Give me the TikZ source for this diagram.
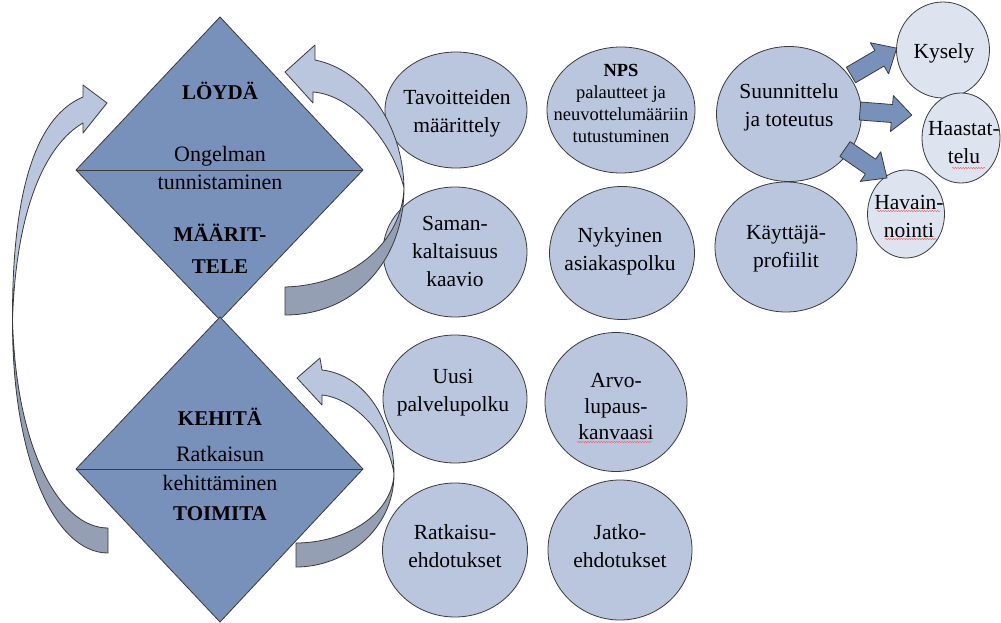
\documentclass[tikz,border=0pt]{standalone}
\usepackage{fontspec}
\setmainfont{Liberation Serif}
\usetikzlibrary{shapes.geometric,decorations.pathmorphing}

\definecolor{diafill}{HTML}{7891BB}
\definecolor{bubblefill}{HTML}{B9C6DD}
\definecolor{minifill}{HTML}{DDE3EF}
\definecolor{bandlight}{HTML}{B9C6DD}
\definecolor{banddark}{HTML}{959FB3}
\definecolor{edgegray}{HTML}{3A3A3A}

% block arrow: start point, angle, length
\newcommand\blockarrow[3]{%
  \begin{scope}[shift={#1},rotate=#2]
    \draw[blockstyle] (0,-9) -- ({#3-20},-9) -- ({#3-20},-18) -- (#3,0)
      -- ({#3-20},18) -- ({#3-20},9) -- (0,9) -- cycle;
  \end{scope}}

\begin{document}
\begin{tikzpicture}[x=1pt,y=-1pt,
  outline/.style={draw=edgegray, line width=0.8pt, line join=round},
  dia/.style={outline, fill=diafill},
  bubble/.style={ellipse, outline, fill=bubblefill, inner sep=0pt},
  minibubble/.style={ellipse, outline, fill=minifill, inner sep=0pt},
  lbl/.style={align=center, inner sep=0pt, font=\fontsize{21.5}{28}\selectfont},
  small/.style={align=center, inner sep=0pt, font=\fontsize{18.5}{22}\selectfont},
  dlbl/.style={anchor=base, inner sep=0pt, font=\fontsize{22}{26}\selectfont},
  dhead/.style={anchor=base, inner sep=0pt, font=\fontsize{21}{26}\selectfont\bfseries},
  bandL/.style={outline, fill=bandlight},
  bandD/.style={outline, fill=banddark},
  blockstyle/.style={outline, fill=diafill},
  squiggle/.style={draw=red!65, line width=0.4pt, decorate,
    decoration={snake, amplitude=0.7pt, segment length=2.6pt}}
]
\useasboundingbox (0,0) rectangle (1001,623);

% ---- diamonds ----
\coordinate (d1t) at (220,17);  \coordinate (d1r) at (363,170);
\coordinate (d1b) at (220,320); \coordinate (d1l) at (76,170);
\coordinate (d2t) at (220,317); \coordinate (d2r) at (363,469);
\coordinate (d2b) at (220,622); \coordinate (d2l) at (76,469);
\draw[dia] (d1t) -- (d1r) -- (d1b) -- (d1l) -- cycle;
\draw[outline] (d1l) -- (d1r);
\draw[dia] (d2t) -- (d2r) -- (d2b) -- (d2l) -- cycle;
\draw[outline] (d2l) -- (d2r);

\node[dhead] (loyda) at (220,100) {LÖYDÄ};
\node[dlbl] (ong) at (220,161) {Ongelman};
\node[dlbl] (tun) at (220,189) {tunnistaminen};
\node[dhead] (maa) at (220,241) {MÄÄRIT-};
\node[dhead] (tele) at (220,273) {TELE};
\node[dhead] (keh) at (220,425) {KEHITÄ};
\node[dlbl] (rat) at (220,461) {Ratkaisun};
\node[dlbl] (kehm) at (220,490) {kehittäminen};
\node[dhead] (toim) at (220,520) {TOIMITA};

% ---- bubbles ----
\node[bubble, minimum width=142, minimum height=116] (tav) at (456,110) {};
\node[bubble, minimum width=148, minimum height=126] (nps) at (621,110) {};
\node[bubble, minimum width=145, minimum height=135] (suun) at (789,114) {};
\node[bubble, minimum width=144, minimum height=130] (sam) at (455,252) {};
\node[bubble, minimum width=145, minimum height=133] (nyk) at (622,253) {};
\node[bubble, minimum width=142, minimum height=130] (kay) at (786,247) {};
\node[bubble, minimum width=144, minimum height=128] (uusi) at (455,399) {};
\node[bubble, minimum width=142, minimum height=139] (arvo) at (616,402) {};
\node[bubble, minimum width=145, minimum height=134] (ratk) at (455,550) {};
\node[bubble, minimum width=144, minimum height=140] (jatko) at (620,550) {};
\node[minibubble, minimum width=93, minimum height=96] (kys) at (943,50) {};
\node[minibubble, minimum width=78, minimum height=90] (haas) at (961,138) {};
\node[minibubble, minimum width=77, minimum height=88] (hav) at (906,214) {};

\node[lbl] (tavT) at (457,113) {Tavoitteiden\\määrittely};
\node[small] (npsT) at (621,103) {\textbf{NPS}\\palautteet ja\\neuvottelumääriin\\tutustuminen};
\node[lbl] (suunT) at (789,107) {Suunnittelu\\ja toteutus};
\node[lbl] (samT) at (455,251) {Saman-\\kaltaisuus\\kaavio};
\node[lbl] (nykT) at (620,251) {Nykyinen\\asiakaspolku};
\node[lbl] (kayT) at (786,249) {Käyttäjä-\\profiilit};
\node[lbl] (uusiT) at (453,393) {Uusi\\palvelupolku};
\node[lbl, font=\fontsize{21.5}{26}\selectfont] (arvoT) at (616,407) {Arvo-\\lupaus-\\kanvaasi};
\node[lbl] (ratkT) at (455,546) {Ratkaisu-\\ehdotukset};
\node[lbl] (jatkoT) at (620,546) {Jatko-\\ehdotukset};
\node[lbl] (kysT) at (944,53) {Kysely};
\node[lbl] (haasT) at (964,143) {Haastat-\\telu};
\node[lbl] (havT) at (909,216) {Havain-\\nointi};

% spelling marks under some words
\draw[squiggle] (952,168) -- (985,168);
\draw[squiggle] (877,211) -- (941,211);
\draw[squiggle] (885,239) -- (938,239);
\draw[squiggle] (577,442) -- (652,442);

% ---- block arrows out of the planning bubble ----
\blockarrow{(851,75)}{30.4}{53}
\blockarrow{(860,111)}{-4.5}{52}
\blockarrow{(845,149)}{-34.6}{51}

% ---- curved ribbon arrows ----
% upper right, back to LÖYDÄ
\path[bandD] (404,188) .. controls (404,260) and (355,315) .. (285,315)
  -- (285,287) .. controls (355,285) and (402,240) .. (404,188) -- cycle;
\path[bandL] (315,60) -- (315,45) -- (285,72) -- (313,103) -- (313,92)
  .. controls (352,95) and (392,140) .. (404,188)
  .. controls (403,125) and (365,70) .. (315,60) -- cycle;
% lower right, back to KEHITÄ
\path[bandD] (394,474) .. controls (394,530) and (345,567) .. (296,567)
  -- (296,543) .. controls (345,543) and (392,515) .. (394,474) -- cycle;
\path[bandL] (322,370) -- (320,358) -- (297,378) -- (322,405) -- (322,395)
  .. controls (352,398) and (388,432) .. (394,474)
  .. controls (394,420) and (365,375) .. (322,370) -- cycle;
% left, from TOIMITA round to LÖYDÄ
\path[bandD] (12.5,320) .. controls (12,460) and (55,553) .. (108,553)
  -- (108,528) .. controls (60,528) and (16,450) .. (12.5,320) -- cycle;
\path[bandL] (83,97) -- (83,85) -- (107,103) -- (83,133) -- (83,123)
  .. controls (45,145) and (16,210) .. (12.5,320)
  .. controls (12,180) and (40,115) .. (83,97) -- cycle;
\end{tikzpicture}
\end{document}
